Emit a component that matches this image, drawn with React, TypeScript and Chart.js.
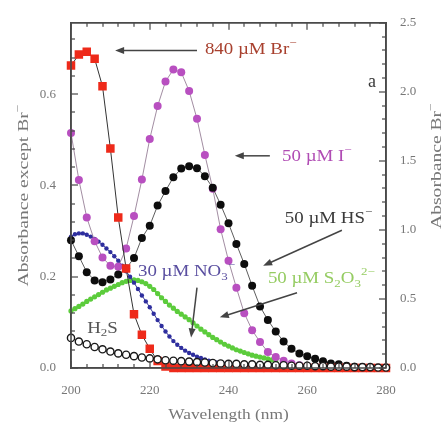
import { useEffect, useRef } from 'react';
import { Chart, registerables } from 'chart.js';

Chart.register(...registerables);

// ---------------- data ----------------
const wavelength2nm = [
  200, 202, 204, 206, 208, 210, 212, 214, 216, 218, 220, 222, 224, 226, 228, 230, 232, 234, 236, 238,
  240, 242, 244, 246, 248, 250, 252, 254, 256, 258, 260, 262, 264, 266, 268, 270, 272, 274, 276, 278, 280,
];
const wavelength1nmNO3 = [
  200, 201, 202, 203, 204, 205, 206, 207, 208, 209, 210, 211, 212, 213, 214, 215, 216, 217, 218, 219,
  220, 221, 222, 223, 224, 225, 226, 227, 228, 229, 230, 231, 232, 233, 234, 235, 236, 237, 238, 239,
  240, 241, 242, 243, 244, 245, 246, 247, 248, 249, 250,
];
const wavelength1nmS2O3 = [
  200, 201, 202, 203, 204, 205, 206, 207, 208, 209, 210, 211, 212, 213, 214, 215, 216, 217, 218, 219,
  220, 221, 222, 223, 224, 225, 226, 227, 228, 229, 230, 231, 232, 233, 234, 235, 236, 237, 238, 239,
  240, 241, 242, 243, 244, 245, 246, 247, 248, 249, 250, 251, 252,
];

// 840 uM Br- (right axis)
const brAbs = [
  2.19, 2.27, 2.29, 2.24, 2.04, 1.59, 1.09, 0.72, 0.39, 0.24, 0.14, 0.05, 0.01, 0, 0, 0, 0, 0, 0, 0,
  0, 0, 0, 0, 0, 0, 0, 0, 0, 0, 0, 0, 0, 0, 0, 0, 0, 0, 0, 0, 0,
];
// 50 uM I-
const iAbs = [
  0.515, 0.412, 0.33, 0.278, 0.242, 0.224, 0.222, 0.262, 0.333, 0.413, 0.502, 0.574, 0.628, 0.654, 0.648,
  0.607, 0.546, 0.467, 0.393, 0.304, 0.235, 0.176, 0.12, 0.083, 0.057, 0.035, 0.024, 0.016, 0.01, 0.006,
  0.004, 0.003, 0.002, 0.002, 0.001, 0.001, 0.001, 0.001, 0, 0, 0,
];
// 50 uM HS-
const hsAbs = [
  0.28, 0.245, 0.21, 0.192, 0.188, 0.194, 0.205, 0.218, 0.241, 0.285, 0.312, 0.356, 0.388, 0.418, 0.437,
  0.442, 0.438, 0.42, 0.395, 0.358, 0.317, 0.272, 0.228, 0.18, 0.135, 0.105, 0.08, 0.058, 0.042, 0.032,
  0.026, 0.02, 0.015, 0.01, 0.008, 0.005, 0.003, 0.002, 0.001, 0, 0,
];
// H2S
const h2sAbs = [
  0.066, 0.058, 0.052, 0.046, 0.041, 0.036, 0.032, 0.029, 0.026, 0.023, 0.021, 0.019, 0.017, 0.016, 0.015,
  0.014, 0.013, 0.012, 0.011, 0.01, 0.009, 0.009, 0.008, 0.008, 0.007, 0.007, 0.006, 0.006, 0.005, 0.005,
  0.005, 0.004, 0.004, 0.003, 0.003, 0.003, 0.002, 0.002, 0.002, 0.001, 0.001,
];
// 30 uM NO3-
const no3Abs = [
  0.288, 0.293, 0.295, 0.295, 0.292, 0.288, 0.283, 0.277, 0.27, 0.262, 0.254, 0.245, 0.235, 0.224, 0.212,
  0.2, 0.187, 0.173, 0.159, 0.146, 0.133, 0.119, 0.105, 0.092, 0.08, 0.069, 0.059, 0.051, 0.044, 0.038,
  0.033, 0.029, 0.025, 0.022, 0.019, 0.016, 0.014, 0.012, 0.01, 0.009, 0.008, 0.007, 0.006, 0.005, 0.004,
  0.004, 0.003, 0.003, 0.002, 0.002, 0.002,
];
// 50 uM S2O3 2-
const s2o3Abs = [
  0.125, 0.13, 0.135, 0.14, 0.146, 0.151, 0.156, 0.161, 0.166, 0.171, 0.175, 0.179, 0.183, 0.187, 0.19,
  0.192, 0.193, 0.192, 0.189, 0.185, 0.179, 0.172, 0.163, 0.154, 0.146, 0.138, 0.131, 0.124, 0.118, 0.112,
  0.106, 0.099, 0.092, 0.085, 0.079, 0.073, 0.067, 0.062, 0.057, 0.052, 0.048, 0.044, 0.04, 0.037, 0.034,
  0.031, 0.028, 0.026, 0.024, 0.022, 0.02, 0.018, 0.016,
];

const xTicks = [200, 220, 240, 260, 280];
const leftTicks = [0, 0.2, 0.4, 0.6];
const rightTicks = [0, 0.5, 1.0, 1.5, 2.0, 2.5];

const xTitle = 'Wavelength (nm)';
const leftTitle = [{ t: 'Absorbance except Br' }, { t: '\u2212', sup: true }];
const rightTitle = [{ t: 'Absorbance Br' }, { t: '\u2212', sup: true }];

// annotations (in data coordinates: wavelength, left-axis absorbance)
const labels = [
  { x: 234.0, y: 0.698, color: '#a8402e', parts: [{ t: '840 \u00b5M Br' }, { t: '\u2212', sup: true }] },
  { x: 253.6, y: 0.463, color: '#b04cb4', parts: [{ t: '50 \u00b5M I' }, { t: '\u2212', sup: true }] },
  { x: 254.3, y: 0.328, color: '#3a3a3a', parts: [{ t: '50 \u00b5M HS' }, { t: '\u2212', sup: true }] },
  {
    x: 250.0, y: 0.196, color: '#95cc62',
    parts: [{ t: '50 \u00b5M S' }, { t: '2', sub: true }, { t: 'O' }, { t: '3', sub: true }, { t: '2\u2212', sup: true }],
  },
  {
    x: 217.0, y: 0.211, color: '#5a4fa0',
    parts: [{ t: '30 \u00b5M NO' }, { t: '3', sub: true }, { t: '\u2212', sup: true }],
  },
  { x: 204.1, y: 0.087, color: '#555555', parts: [{ t: 'H' }, { t: '2', sub: true }, { t: 'S' }] },
];
const arrows = [
  { x1: 232.0, y1: 0.696, x2: 211.2, y2: 0.696 },
  { x1: 250.5, y1: 0.465, x2: 241.6, y2: 0.465 },
  { x1: 268.8, y1: 0.302, x2: 248.8, y2: 0.224 },
  { x1: 257.4, y1: 0.165, x2: 237.8, y2: 0.111 },
  { x1: 232.0, y1: 0.176, x2: 230.5, y2: 0.067 },
];
const panelLetter = { x: 275.4, y: 0.626, text: 'a' };

// ---------------- drawing helpers ----------------
const SERIF = "'Liberation Serif','Times New Roman',serif";
const FRAME = '#4a4a4a';
type Part = { t: string; sub?: boolean; sup?: boolean };

function drawRich(
  ctx: CanvasRenderingContext2D, parts: Part[], x: number, y: number, size: number,
  color: string, sx: number, align: 'left' | 'center', rot = 0,
) {
  ctx.save();
  ctx.fillStyle = color;
  ctx.textBaseline = 'middle';
  ctx.textAlign = 'left';
  const small = Math.round(size * 0.68);
  let w = 0;
  for (const p of parts) {
    ctx.font = `${p.sub || p.sup ? small : size}px ${SERIF}`;
    w += ctx.measureText(p.t).width;
  }
  ctx.translate(x, y);
  if (rot) ctx.rotate(rot);
  ctx.scale(sx, 1);
  let cx = align === 'center' ? -w / 2 : 0;
  for (const p of parts) {
    ctx.font = `${p.sub || p.sup ? small : size}px ${SERIF}`;
    const dy = p.sub ? size * 0.32 : p.sup ? -size * 0.4 : 0;
    ctx.fillText(p.t, cx, dy);
    cx += ctx.measureText(p.t).width;
  }
  ctx.restore();
}

function drawArrow(ctx: CanvasRenderingContext2D, x1: number, y1: number, x2: number, y2: number) {
  const a = Math.atan2(y2 - y1, x2 - x1);
  const hl = 9;
  const hw = 3.5;
  ctx.save();
  ctx.strokeStyle = '#444';
  ctx.fillStyle = '#444';
  ctx.lineWidth = 1.5;
  ctx.beginPath();
  ctx.moveTo(x1, y1);
  ctx.lineTo(x2 - (hl - 1) * Math.cos(a), y2 - (hl - 1) * Math.sin(a));
  ctx.stroke();
  const bx = x2 - hl * Math.cos(a);
  const by = y2 - hl * Math.sin(a);
  ctx.beginPath();
  ctx.moveTo(x2, y2);
  ctx.lineTo(bx + hw * Math.sin(a), by - hw * Math.cos(a));
  ctx.lineTo(bx - hw * Math.sin(a), by + hw * Math.cos(a));
  ctx.closePath();
  ctx.fill();
  ctx.restore();
}

const decorPlugin = {
  id: 'decor',
  afterDraw(chart: any) {
    const ctx: CanvasRenderingContext2D = chart.ctx;
    const a = chart.chartArea;
    const xs = chart.scales.x;
    const ys = chart.scales.y;
    const y2s = chart.scales.y2;

    // arrows & labels
    for (const ar of arrows) {
      drawArrow(ctx, xs.getPixelForValue(ar.x1), ys.getPixelForValue(ar.y1), xs.getPixelForValue(ar.x2), ys.getPixelForValue(ar.y2));
    }
    for (const l of labels) {
      drawRich(ctx, l.parts, xs.getPixelForValue(l.x), ys.getPixelForValue(l.y), 16, l.color, 1.18, 'left');
    }
    drawRich(ctx, [{ t: panelLetter.text }], xs.getPixelForValue(panelLetter.x), ys.getPixelForValue(panelLetter.y), 18, '#3a3a3a', 1, 'left');

    // axis titles
    drawRich(ctx, [{ t: xTitle }], (a.left + a.right) / 2, a.bottom + 47, 14, '#777', 1.24, 'center');
    drawRich(ctx, leftTitle, 24, (a.top + a.bottom) / 2, 14, '#777', 1.4, 'center', -Math.PI / 2);
    drawRich(ctx, rightTitle, 437, 166, 14, '#777', 1.4, 'center', -Math.PI / 2);

    // inward ticks and frame
    ctx.save();
    ctx.fillStyle = FRAME;
    for (let i = 0; i <= 20; i++) {
      const px = Math.round(xs.getPixelForValue(200 + i * 4));
      const len = i % 5 === 0 ? 7 : 4;
      ctx.fillRect(px - 0.6, a.bottom - len, 1.2, len);
      ctx.fillRect(px - 0.6, a.top, 1.2, len);
    }
    for (let i = 0; i <= 18; i++) {
      const py = Math.round(ys.getPixelForValue(i * 0.04));
      const len = i % 5 === 0 ? 7 : 4;
      ctx.fillRect(a.left, py - 0.6, len, 1.2);
    }
    for (let i = 0; i <= 25; i++) {
      const py = Math.round(y2s.getPixelForValue(i * 0.1));
      const len = i % 5 === 0 ? 7 : 4;
      ctx.fillRect(a.right - len, py - 0.6, len, 1.2);
    }
    ctx.strokeStyle = FRAME;
    ctx.lineWidth = 1.6;
    ctx.beginPath();
    ctx.moveTo(a.left, a.top);
    ctx.lineTo(a.right, a.top);
    ctx.lineTo(a.right, a.bottom);
    ctx.lineTo(a.left, a.bottom);
    ctx.closePath();
    ctx.stroke();
    ctx.restore();
  },
};

function pts(xsArr: number[], vals: number[]) {
  return vals.map((v, i) => ({ x: xsArr[i], y: v }));
}

export default function App() {
  const ref = useRef<HTMLCanvasElement | null>(null);
  useEffect(() => {
    if (!ref.current) return;
    const tickFont = { family: SERIF, size: 13 };
    const border = { display: true, color: FRAME, width: 1.6 };
    const chart = new Chart(ref.current, {
      type: 'line',
      data: {
        datasets: [
          {
            label: 'H2S', data: pts(wavelength2nm, h2sAbs), yAxisID: 'y', order: 0,
            borderColor: '#222', borderWidth: 0.8, pointStyle: 'circle', pointRadius: 3.6,
            pointBackgroundColor: '#ffffff', pointBorderColor: '#1a1a1a', pointBorderWidth: 1.4, clip: 8,
          },
          {
            label: '840 uM Br-', data: pts(wavelength2nm, brAbs), yAxisID: 'y2', order: 1,
            borderColor: '#333', borderWidth: 1, pointStyle: 'rect', pointRadius: 6,
            pointBackgroundColor: '#ee2a1a', pointBorderColor: '#ee2a1a', pointBorderWidth: 0, clip: 8,
          },
          {
            label: '50 uM HS-', data: pts(wavelength2nm, hsAbs), yAxisID: 'y', order: 2,
            borderColor: '#333', borderWidth: 0.8, pointStyle: 'circle', pointRadius: 4,
            pointBackgroundColor: '#0d0d0d', pointBorderColor: '#0d0d0d', pointBorderWidth: 0, clip: 8,
          },
          {
            label: '50 uM I-', data: pts(wavelength2nm, iAbs), yAxisID: 'y', order: 3,
            borderColor: '#8a708a', borderWidth: 0.8, pointStyle: 'circle', pointRadius: 4,
            pointBackgroundColor: '#b84fc0', pointBorderColor: '#b84fc0', pointBorderWidth: 0, clip: 8,
          },
          {
            label: '30 uM NO3-', data: pts(wavelength1nmNO3, no3Abs), yAxisID: 'y', order: 4,
            borderColor: '#3a3a9a', borderWidth: 1, pointStyle: 'circle', pointRadius: 2.2,
            pointBackgroundColor: '#2e2e9e', pointBorderColor: '#2e2e9e', pointBorderWidth: 0, clip: 8,
          },
          {
            label: '50 uM S2O3 2-', data: pts(wavelength1nmS2O3, s2o3Abs), yAxisID: 'y', order: 5,
            borderColor: '#60cc40', borderWidth: 2, pointStyle: 'circle', pointRadius: 2.6,
            pointBackgroundColor: '#5ccc3c', pointBorderColor: '#5ccc3c', pointBorderWidth: 0, clip: 8,
          },
        ],
      },
      options: {
        responsive: false,
        devicePixelRatio: 1,
        animation: false,
        events: [],
        layout: { padding: { top: 20, left: 0, right: 0, bottom: 0 } },
        plugins: { legend: { display: false }, tooltip: { enabled: false } },
        elements: { line: { tension: 0 } },
        scales: {
          x: {
            type: 'linear', position: 'bottom', min: 200, max: 280,
            grid: { display: false, drawTicks: false }, border,
            afterBuildTicks: (s: any) => { s.ticks = xTicks.map((v) => ({ value: v })); },
            afterFit: (s: any) => { s.height = 57; },
            ticks: { font: tickFont, color: '#777', padding: 15, maxRotation: 0, callback: (v: any) => String(v) },
          },
          xTop: {
            type: 'linear', position: 'top', min: 200, max: 280,
            grid: { display: false, drawTicks: false }, border,
            ticks: { display: false },
            afterFit: (s: any) => { s.height = 0; },
          },
          y: {
            type: 'linear', position: 'left', min: 0, max: 0.7565,
            grid: { display: false, drawTicks: false }, border,
            afterBuildTicks: (s: any) => { s.ticks = leftTicks.map((v) => ({ value: v })); },
            afterFit: (s: any) => { s.width = 71; },
            ticks: { font: tickFont, color: '#777', padding: 15, callback: (v: any) => Number(v).toFixed(1) },
          },
          y2: {
            type: 'linear', position: 'right', min: 0, max: 2.5,
            grid: { display: false, drawTicks: false }, border,
            afterBuildTicks: (s: any) => { s.ticks = rightTicks.map((v) => ({ value: v })); },
            afterFit: (s: any) => { s.width = 62; },
            ticks: { font: tickFont, color: '#777', padding: 14, callback: (v: any) => Number(v).toFixed(1) },
          },
        },
      },
      plugins: [decorPlugin],
    } as any);
    return () => chart.destroy();
  }, []);
  return (
    <div style={{ position: 'absolute', left: 0, top: 0, width: 448, height: 425, background: '#fff' }}>
      <canvas ref={ref} width={448} height={425} style={{ display: 'block' }} />
    </div>
  );
}
